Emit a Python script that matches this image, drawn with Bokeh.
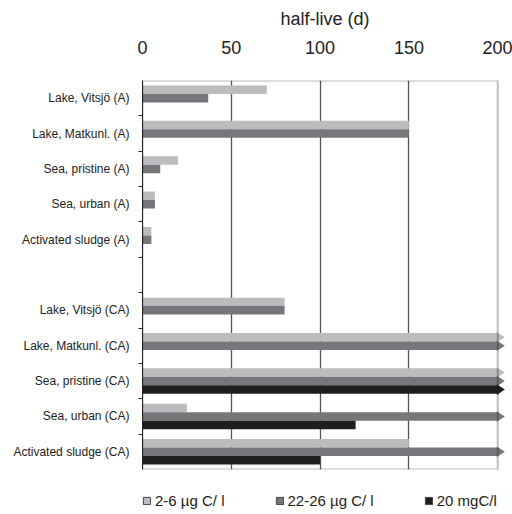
from bokeh.plotting import figure
from bokeh.layouts import column
from bokeh.models import (Range1d, FixedTicker, BoxAnnotation, Legend, LegendItem,
                          ColumnDataSource)
from bokeh.embed import file_html
from bokeh.resources import INLINE

categories = ["Lake, Vitsjö (A)", "Lake, Matkunl. (A)", "Sea, pristine (A)",
              "Sea, urban (A)", "Activated sludge (A)", "",
              "Lake, Vitsjö (CA)", "Lake, Matkunl. (CA)", "Sea, pristine (CA)",
              "Sea, urban (CA)", "Activated sludge (CA)"]
series_names = ["2-6 µg C/ l", "22-26 µg C/ l", "20 mgC/l"]
light = [70, 150, 20, 7, 5, None, 80, 200, 200, 25, 150]
dark = [37, 150, 10, 7, 5, None, 80, 200, 200, 200, 200]
black = [None, None, None, None, None, None, None, None, 200, 120, 100]
# True where the half-life exceeds the axis (drawn with an arrow head)
light_beyond = [False, False, False, False, False, False, False, True, True, False, False]
dark_beyond = [False, False, False, False, False, False, False, True, True, True, True]
black_beyond = [False, False, False, False, False, False, False, False, True, False, False]
x_ticks = [0, 50, 100, 150, 200]

colors = ["#bcbcbe", "#77777b", "#1e1e1e"]
FONT = "Liberation Sans"
n = len(categories)
BAR_H = 0.24
offsets = [-BAR_H, 0.0, BAR_H]

p = figure(width=512, height=470, output_backend="svg", toolbar_location=None,
           x_range=Range1d(0, 205.5), y_range=Range1d(n, 0),
           x_axis_location="above", min_border_left=142, min_border_right=5,
           min_border_top=80, min_border_bottom=1)
p.outline_line_color = None
p.background_fill_color = "white"

# x axis on top
xa = p.xaxis[0]
xa.ticker = FixedTicker(ticks=x_ticks)
xa.axis_label = "half-live (d)"
xa.axis_label_text_font = FONT
xa.axis_label_text_font_size = "18px"
xa.axis_label_text_font_style = "normal"
xa.axis_label_text_color = "#222222"
xa.axis_label_standoff = 9
xa.major_label_text_font = FONT
xa.major_label_text_font_size = "18px"
xa.major_label_text_color = "#222222"
xa.major_tick_line_color = None
xa.minor_tick_line_color = None
xa.major_tick_out = 0
xa.major_tick_in = 0
xa.major_label_standoff = 27
xa.axis_line_color = None

# y axis with category labels, ticks at boundaries
centers = [i + 0.5 for i in range(n)]
ya = p.yaxis[0]
ya.ticker = FixedTicker(ticks=centers, minor_ticks=list(range(1, n)))
ya.major_label_overrides = {c: lab for c, lab in zip(centers, categories)}
ya.major_label_text_font = FONT
ya.major_label_text_font_size = "12px"
ya.major_label_text_color = "#222222"
ya.major_tick_line_color = None
ya.major_tick_out = 0
ya.major_tick_in = 0
ya.major_label_standoff = 9
ya.minor_tick_out = 4
ya.minor_tick_in = 0
ya.minor_tick_line_color = "#222222"
ya.axis_line_color = "#222222"

p.ygrid.grid_line_color = None
p.xgrid.ticker = FixedTicker(ticks=[50, 100, 150])
p.xgrid.grid_line_color = "#555555"
p.xgrid.grid_line_width = 1.3

# bars
all_series = [light, dark, black]
all_beyond = [light_beyond, dark_beyond, black_beyond]
for vals, beyond, off, col in zip(all_series, all_beyond, offsets, colors):
    ys = [c + off for c, v in zip(centers, vals) if v is not None]
    xs = [v for v in vals if v is not None]
    src = ColumnDataSource(dict(y=ys, right=xs))
    p.hbar(y="y", left=0, right="right", height=BAR_H, source=src,
           fill_color=col, line_color=None)
    hx, hy = [], []
    for c, v, b in zip(centers, vals, beyond):
        if v is not None and b:
            yc = c + off
            hx.append([v - 0.5, v - 0.5, v + 4.0])
            hy.append([yc - 0.15, yc + 0.15, yc])
    if hx:
        p.patches(hx, hy, fill_color=col, line_color=None)

# frame box
p.add_layout(BoxAnnotation(left=0, right=200, top=0, bottom=n, fill_alpha=0,
                           line_color="#222222", line_width=2))

# legend in a thin strip below the chart (its frame is aligned with the chart's)
lg = figure(width=512, height=44, output_backend="svg", toolbar_location=None,
            x_range=Range1d(0, 1), y_range=Range1d(0, 1), min_border=0,
            x_axis_location=None, y_axis_location=None)
lg.grid.grid_line_color = None
lg.outline_line_color = None
items = []
for name, col in zip(series_names, colors):
    r = lg.quad(left=[0.4], right=[0.5], bottom=[0.4], top=[0.5], fill_color=col,
                line_color="#444444", line_width=1, visible=False)
    items.append(LegendItem(label=name, renderers=[r]))
legend = Legend(items=items, orientation="horizontal", location=(0, 5),
                label_text_font=FONT, label_text_font_size="15px",
                label_text_color="#222222", glyph_width=9, glyph_height=9,
                label_standoff=4, spacing=50, padding=0,
                margin=0, border_line_color=None, background_fill_alpha=0)
lg.add_layout(legend, "center")

layout = column(p, lg, spacing=0)
open("out.html", "w").write(file_html(layout, INLINE))
